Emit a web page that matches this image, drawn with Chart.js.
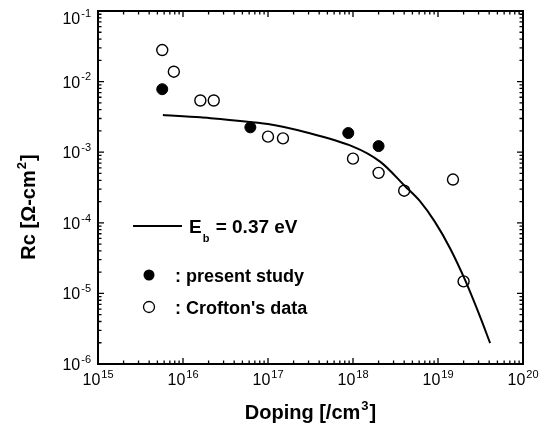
<!DOCTYPE html>
<html>
<head>
<meta charset="utf-8">
<script src="https://cdn.jsdelivr.net/npm/chart.js@4.4.0/dist/chart.umd.min.js"></script>
<style>
  html, body { margin: 0; padding: 0; background: #fff; }
  #wrap { width: 552px; height: 428px; }
</style>
</head>
<body>
<div id="wrap"><canvas id="c" width="552" height="428"></canvas></div>
<script>
// ---- data ----
const dopingPresent = [5.7e15, 6.2e16, 8.8e17, 2.0e18];
const rcPresent     = [7.8e-3, 2.25e-3, 1.87e-3, 1.22e-3];

const dopingCrofton = [5.7e15, 7.8e15, 1.6e16, 2.3e16, 1.0e17, 1.5e17, 1.0e18, 2.0e18, 4.0e18, 1.5e19, 2.0e19];
const rcCrofton     = [2.8e-2, 1.38e-2, 5.4e-3, 5.4e-3, 1.66e-3, 1.57e-3, 8.1e-4, 5.1e-4, 2.85e-4, 4.1e-4, 1.48e-5];

const dopingFit = [5.8e15, 1.6e16, 1.0e17, 3.1e17, 1.0e18, 2.1e18, 4.1e18, 6.1e18, 9.2e18, 1.38e19, 2.08e19, 3.1e19, 4.1e19];
const rcFit     = [3.37e-3, 3.12e-3, 2.5e-3, 1.85e-3, 1.2e-3, 7.3e-4, 3.3e-4, 2.04e-4, 1.03e-4, 4.4e-5, 1.55e-5, 4.8e-6, 1.98e-6];

const xDecades = [15, 16, 17, 18, 19, 20];
const yDecades = [-1, -2, -3, -4, -5, -6];

const xTitle = ['Doping [/cm', '3', ']'];
const yTitle = ['Rc [\u03A9-cm', '2', ']'];
const fitLabel = ['E', 'b', ' = 0.37 eV'];
const presentLabel = ': present study';
const croftonLabel = ": Crofton's data";

const FONT = '"Liberation Sans", Arial, Helvetica, sans-serif';

function pts(xs, ys) { return xs.map((x, i) => ({ x: x, y: ys[i] })); }

function drawSup(ctx, parts, x, y, align, size, supSize, bold) {
  const w = bold ? 'bold ' : '';
  ctx.font = w + size + 'px ' + FONT;
  const w0 = ctx.measureText(parts[0]).width;
  ctx.font = w + supSize + 'px ' + FONT;
  const w1 = ctx.measureText(parts[1]).width;
  ctx.font = w + size + 'px ' + FONT;
  const w2 = parts[2] ? ctx.measureText(parts[2]).width : 0;
  const total = w0 + 1 + w1 + (parts[2] ? 1 + w2 : 0);
  let x0 = align === 'center' ? x - total / 2 : (align === 'right' ? x - total : x);
  ctx.textAlign = 'left';
  ctx.textBaseline = 'alphabetic';
  ctx.font = w + size + 'px ' + FONT;
  ctx.fillText(parts[0], x0, y);
  ctx.font = w + supSize + 'px ' + FONT;
  ctx.fillText(parts[1], x0 + w0 + 1, y - size * 0.45);
  if (parts[2]) {
    ctx.font = w + size + 'px ' + FONT;
    ctx.fillText(parts[2], x0 + w0 + 1 + w1 + 1, y);
  }
}

const axesPlugin = {
  id: 'axesPlugin',
  afterDatasetsDraw(chart) {
    const ctx = chart.ctx;
    const a = chart.chartArea;
    const xs = chart.scales.x, ys = chart.scales.y;
    ctx.save();
    ctx.strokeStyle = '#000';
    ctx.fillStyle = '#000';
    // frame
    ctx.lineWidth = 2;
    ctx.strokeRect(a.left, a.top, a.right - a.left, a.bottom - a.top);
    // ticks
    ctx.lineWidth = 1.3;
    ctx.beginPath();
    for (let d = 15; d <= 20; d++) {
      for (let m = 1; m <= 9; m++) {
        if (d === 20 && m > 1) break;
        const px = xs.getPixelForValue(m * Math.pow(10, d));
        const len = m === 1 ? 6 : 3.5;
        ctx.moveTo(px, a.bottom); ctx.lineTo(px, a.bottom - len);
        ctx.moveTo(px, a.top); ctx.lineTo(px, a.top + len);
      }
    }
    for (let d = -6; d <= -1; d++) {
      for (let m = 1; m <= 9; m++) {
        if (d === -1 && m > 1) break;
        const py = ys.getPixelForValue(m * Math.pow(10, d));
        const len = m === 1 ? 6 : 3.5;
        ctx.moveTo(a.left, py); ctx.lineTo(a.left + len, py);
        ctx.moveTo(a.right, py); ctx.lineTo(a.right - len, py);
      }
    }
    ctx.stroke();
    // x tick labels
    xDecades.forEach(d => {
      const px = xs.getPixelForValue(Math.pow(10, d));
      drawSup(ctx, ['10', String(d)], px, a.bottom + 21, 'center', 16, 11, false);
    });
    // y tick labels
    yDecades.forEach(d => {
      let py = ys.getPixelForValue(Math.pow(10, d));
      if (d === -1) py += 7;
      drawSup(ctx, ['10', String(d)], a.left - 7, py + 6, 'right', 16, 11, false);
    });
    // axis titles
    drawSup(ctx, xTitle, (a.left + a.right) / 2, 419, 'center', 20, 13, true);
    ctx.save();
    ctx.translate(35, 207);
    ctx.rotate(-Math.PI / 2);
    drawSup(ctx, yTitle, 0, 0, 'center', 20, 13, true);
    ctx.restore();

    // legend
    ctx.lineWidth = 2;
    ctx.beginPath();
    ctx.moveTo(133, 226); ctx.lineTo(182, 226);
    ctx.stroke();
    ctx.textAlign = 'left';
    ctx.textBaseline = 'alphabetic';
    ctx.font = 'bold 19px ' + FONT;
    ctx.fillText(fitLabel[0], 189, 233);
    const wE = ctx.measureText(fitLabel[0]).width;
    ctx.font = 'bold 11px ' + FONT;
    ctx.fillText(fitLabel[1], 189 + wE + 1, 242);
    const wb = ctx.measureText(fitLabel[1]).width;
    ctx.font = 'bold 19px ' + FONT;
    ctx.fillText(fitLabel[2], 189 + wE + wb + 2, 233);

    ctx.beginPath();
    ctx.arc(149, 275, 5.5, 0, Math.PI * 2);
    ctx.fill();
    ctx.lineWidth = 1.3;
    ctx.beginPath();
    ctx.arc(149, 307, 5.5, 0, Math.PI * 2);
    ctx.stroke();
    ctx.font = 'bold 18px ' + FONT;
    ctx.fillText(presentLabel, 175, 282);
    ctx.fillText(croftonLabel, 175, 314);
    ctx.restore();
  }
};

new Chart(document.getElementById('c'), {
  type: 'scatter',
  data: {
    datasets: [
      {
        label: 'Eb = 0.37 eV',
        type: 'line',
        data: pts(dopingFit, rcFit),
        borderColor: '#000',
        borderWidth: 2,
        pointRadius: 0,
        fill: false,
        tension: 0.3
      },
      {
        label: 'present study',
        data: pts(dopingPresent, rcPresent),
        pointRadius: 5.5,
        pointBackgroundColor: '#000',
        pointBorderColor: '#000',
        pointBorderWidth: 1
      },
      {
        label: "Crofton's data",
        data: pts(dopingCrofton, rcCrofton),
        pointRadius: 5.5,
        pointBackgroundColor: 'rgba(0,0,0,0)',
        pointBorderColor: '#000',
        pointBorderWidth: 1.4
      }
    ]
  },
  options: {
    responsive: false,
    animation: false,
    devicePixelRatio: 1,
    layout: { padding: { left: 98, top: 11, right: 29, bottom: 64 } },
    plugins: { legend: { display: false }, tooltip: { enabled: false } },
    scales: {
      x: {
        type: 'logarithmic', min: 1e15, max: 1e20,
        grid: { display: false, drawTicks: false },
        border: { display: false },
        ticks: { display: false },
        title: { display: false }
      },
      y: {
        type: 'logarithmic', min: 1e-6, max: 1e-1,
        grid: { display: false, drawTicks: false },
        border: { display: false },
        ticks: { display: false },
        title: { display: false }
      }
    }
  },
  plugins: [axesPlugin]
});
</script>
</body>
</html>
